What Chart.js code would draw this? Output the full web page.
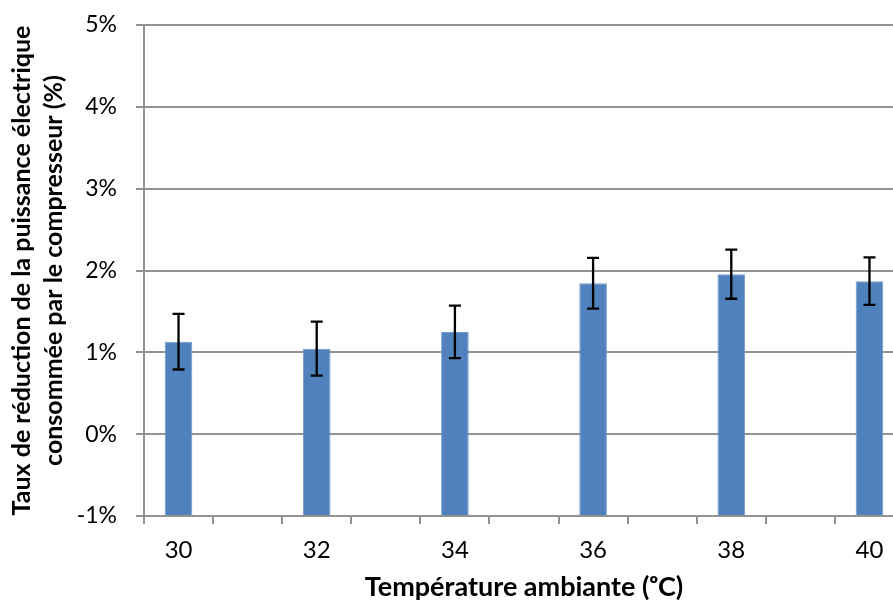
<!DOCTYPE html>
<html>
<head>
<meta charset="utf-8">
<script src="https://cdn.jsdelivr.net/npm/chart.js@4.4.0/dist/chart.umd.min.js"></script>
<style>
  html, body { margin: 0; padding: 0; overflow: hidden; background: #fff; }
  #wrap { width: 904px; height: 606px; }
</style>
</head>
<body>
<div id="wrap"><canvas id="reductionChart"></canvas></div>
<script>
const categories = ['30', '31', '32', '33', '34', '35', '36', '37', '38', '39', '40'];
const reductionValues = [1.13, null, 1.045, null, 1.25, null, 1.845, null, 1.955, null, 1.87];
const reductionErrors = [0.34, null, 0.33, null, 0.32, null, 0.31, null, 0.30, null, 0.29];
const yTicks = [-1, 0, 1, 2, 3, 4, 5];

const gridColor = '#929292';
const fontName = 'Lato, "Noto Sans", sans-serif';

// Draw error bars from the scales
const errorBarPlugin = {
    id: 'errorBars',
    afterDatasetsDraw(chart) {
        const ctx = chart.ctx;
        const x = chart.scales.x;
        const y = chart.scales.y;
        ctx.save();
        ctx.strokeStyle = '#000';
        ctx.lineWidth = 2.3;
        reductionValues.forEach((v, i) => {
            if (v === null) return;
            const px = x.getPixelForValue(i);
            const top = y.getPixelForValue(v + reductionErrors[i]);
            const bot = y.getPixelForValue(v - reductionErrors[i]);
            ctx.beginPath();
            ctx.moveTo(px, top);
            ctx.lineTo(px, bot);
            ctx.moveTo(px - 6, top);
            ctx.lineTo(px + 6, top);
            ctx.moveTo(px - 6, bot);
            ctx.lineTo(px + 6, bot);
            ctx.stroke();
        });
        ctx.restore();
    }
};

new Chart(document.getElementById('reductionChart'), {
    type: 'bar',
    data: {
        labels: categories,
        datasets: [{
            data: reductionValues,
            base: -1,
            backgroundColor: '#4F81BD',
            borderColor: '#729ACB',
            borderWidth: 1,
            categoryPercentage: 1,
            barPercentage: 0.4
        }]
    },
    options: {
        responsive: true,
        maintainAspectRatio: false,
        animation: false,
        layout: { padding: { top: 25, left: 0, right: 0, bottom: 0 } },
        scales: {
            x: {
                grid: {
                    offset: true,
                    drawOnChartArea: false,
                    drawTicks: true,
                    tickLength: 8,
                    color: gridColor,
                    lineWidth: 2
                },
                border: { color: gridColor, width: 2 },
                ticks: {
                    autoSkip: false,
                    maxRotation: 0,
                    padding: 12,
                    color: '#000',
                    font: { family: fontName, size: 24 },
                    callback: (v, i) => (i % 2 === 0 ? categories[i] : '')
                },
                title: {
                    display: true,
                    text: 'Température ambiante (ᵒC)',
                    color: '#000',
                    font: { family: fontName, size: 27, weight: 'bold', lineHeight: 1.2 },
                    padding: { top: 0, bottom: 3 }
                },
                afterFit: (s) => { s.height = 90; }
            },
            y: {
                min: -1,
                max: 5,
                afterBuildTicks: (s) => { s.ticks = yTicks.map(v => ({ value: v })); },
                grid: {
                    color: gridColor,
                    lineWidth: 2,
                    tickLength: 8
                },
                border: { color: gridColor, width: 2 },
                ticks: {
                    padding: 19,
                    color: '#000',
                    font: { family: fontName, size: 23 },
                    callback: (v) => v + '%'
                },
                title: {
                    display: true,
                    text: ['Taux de réduction de la puissance électrique', 'consommée par le compresseur (%)'],
                    color: '#000',
                    font: { family: fontName, size: 25, weight: 'bold', lineHeight: 1.28 },
                    padding: { top: 6, bottom: 0 }
                },
                afterFit: (s) => {
                    s.width = 144;
                    s.paddingTop = 0;
                    s.paddingBottom = 0;
                }
            }
        },
        plugins: {
            legend: { display: false },
            tooltip: { enabled: false }
        }
    },
    plugins: [errorBarPlugin]
});
</script>
</body>
</html>
